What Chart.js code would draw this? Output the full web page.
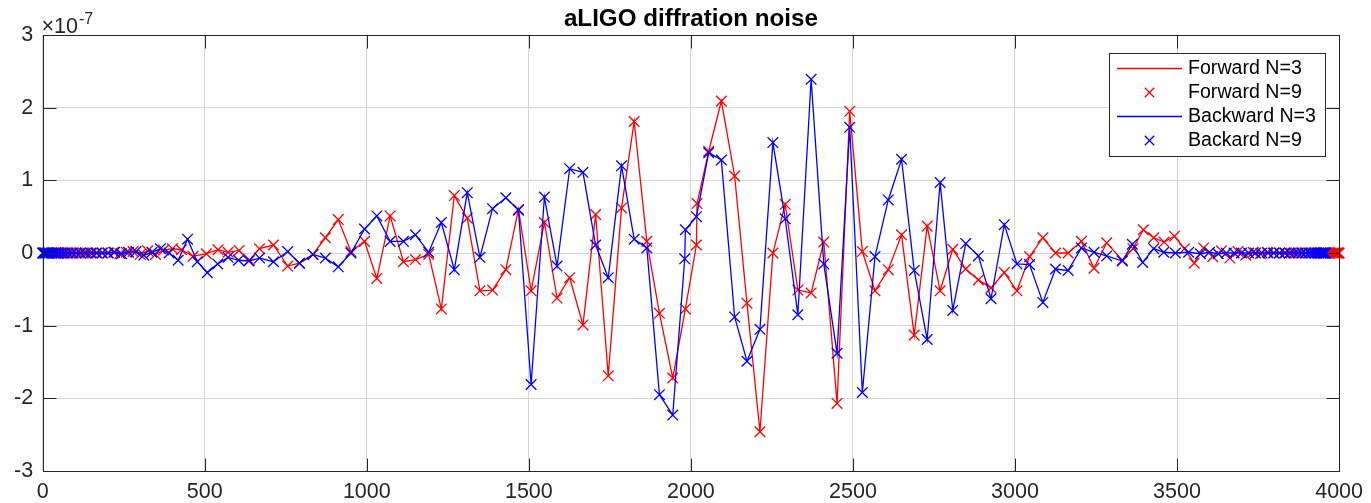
<!DOCTYPE html>
<html><head><meta charset="utf-8">
<script src="https://cdn.jsdelivr.net/npm/chart.js@4.4.0/dist/chart.umd.min.js"></script>
<style>html,body{margin:0;padding:0;background:#fff;}</style>
</head><body>
<canvas id="c" width="1371" height="503"></canvas>
<script>
// ---- data (y values in units of 1e-7) ----
const chartTitle = 'aLIGO diffration noise';
const seriesLabels = ['Forward N=3', 'Forward N=9', 'Backward N=3', 'Backard N=9'];
const xTicks = [0, 500, 1000, 1500, 2000, 2500, 3000, 3500, 4000];
const yTicks = [-3, -2, -1, 0, 1, 2, 3];
const yExponent = '-7';

const fwdX = [
  42, 43, 45, 47, 50, 54, 58, 63, 69, 76, 84, 93, 103, 114, 126, 139, 153, 168, 184, 201,
  219, 238, 258, 279, 301, 324, 348, 373, 400, 428, 464, 505, 541, 572, 606, 638, 669,
  712, 756, 792, 834, 872, 912, 951, 993, 1031, 1072, 1113, 1150, 1191, 1230, 1270, 1310,
  1349, 1388, 1429, 1468, 1507, 1548, 1587, 1626, 1667, 1706, 1745, 1786, 1825, 1864, 1903, 1944,
  1983, 2017, 2019,
  2055, 2094, 2135, 2173, 2213, 2253, 2291, 2330, 2371, 2410, 2451, 2490, 2529, 2568, 2609, 2650,
  2689, 2729, 2769, 2808, 2848, 2887, 2926, 2967, 3006, 3045, 3086, 3125, 3164, 3205, 3244, 3283,
  3331, 3364, 3396, 3428, 3460, 3492, 3523, 3553, 3582, 3610, 3637, 3663, 3688, 3712, 3735, 3757,
  3778, 3798, 3817, 3835, 3852, 3868, 3883, 3897, 3910, 3922, 3933, 3943, 3952, 3960, 3967, 3973,
  3979, 3984, 3988, 3992, 3995, 3997, 3999, 4000
];
const fwdY = [
  0, 0, 0, 0, 0, 0, 0, 0, 0, 0, 0, 0, 0, 0, 0, 0, 0, 0, 0, 0,
  0.01, -0.01, 0.01, 0.02, -0.02, 0.03, -0.02, 0.04, 0.06, 0.045, -0.045, -0.01, 0.045, 0.01, 0.035, -0.10, 0.06,
  0.11, -0.18, -0.14, -0.02, 0.21, 0.46, 0.02, 0.16, -0.35, 0.51, -0.12, -0.09, -0.02, -0.77, 0.79, 0.48,
  -0.52, -0.51, -0.23, 0.60, -0.52, 0.42, -0.62, -0.34, -0.99, 0.53, -1.69, 0.62, 1.81, 0.16, -0.83, -1.72,
  -0.77, 0.11, 0.68,
  1.40, 2.09, 1.06, -0.69, -2.46, 0.00, 0.67, -0.51, -0.55, 0.15, -2.07, 1.95, 0.02, -0.52, -0.23, 0.25,
  -1.13, 0.37, -0.52, 0.05, -0.22, -0.37, -0.48, -0.27, -0.52, -0.05, 0.21, 0.00, 0.00, 0.16, -0.21, 0.14,
  -0.10, 0.06, 0.32, 0.21, 0.15, 0.23, 0.06, -0.14, 0.07, -0.05, 0.03, -0.07, 0.02, -0.03, 0.01, -0.01,
  0.01, 0, 0, 0, 0, 0, 0, 0, 0, 0, 0, 0, 0, 0, 0, 0,
  0, 0, 0, 0, 0, 0, 0, 0
];

const bwdX = [
  0, 1, 3, 5, 8, 12, 16, 21, 27, 33, 40, 48, 57, 67, 78, 90, 103, 117, 132, 148,
  165, 183, 202, 222, 243, 265, 288, 312, 337, 363, 390, 418, 447, 477, 508, 540, 572, 604, 636, 669,
  712, 756, 792, 834, 872, 912, 951, 993, 1031, 1072, 1113, 1150, 1191, 1230, 1270, 1310,
  1349, 1388, 1429, 1468, 1507, 1548, 1587, 1626, 1667, 1706, 1745, 1786, 1825, 1864, 1903, 1944,
  1981, 1983, 2017,
  2055, 2094, 2135, 2173, 2213, 2253, 2291, 2330, 2371, 2410, 2451, 2490, 2529, 2568, 2609, 2650,
  2689, 2729, 2769, 2808, 2848, 2887, 2926, 2967, 3006, 3045, 3086, 3125, 3164, 3205, 3244, 3283,
  3331, 3362, 3394, 3428, 3459, 3495, 3536, 3572, 3600, 3627, 3652, 3676, 3699, 3721, 3742, 3762,
  3781, 3799, 3816, 3832, 3847, 3861, 3874, 3886, 3897, 3907, 3916, 3924, 3931, 3937, 3942, 3946,
  3950, 3953, 3955, 3957, 3958
];
const bwdY = [
  0, 0, 0, 0, 0, 0, 0, 0, 0, 0, 0, 0, 0, 0, 0, 0, 0, 0, 0, 0,
  0, 0, 0, 0.01, -0.01, 0.01, 0.02, -0.03, 0.01, 0.06, 0.00, -0.10, 0.19, -0.12, -0.27, -0.15, -0.06, -0.10, -0.11, -0.07,
  -0.12, 0.02, -0.14, -0.02, -0.07, -0.19, 0.00, 0.33, 0.51, 0.16, 0.16, 0.25, 0.01, 0.42, -0.23, 0.83,
  -0.06, 0.61, 0.76, 0.59, -1.81, 0.77, -0.18, 1.16, 1.11, 0.11, -0.34, 1.20, 0.19, 0.07, -1.95, -2.23,
  -0.08, 0.32, 0.50,
  1.38, 1.28, -0.88, -1.49, -1.05, 1.52, 0.47, -0.85, 2.39, -0.15, -1.38, 1.73, -1.92, -0.05, 0.73, 1.29,
  -0.24, -1.19, 0.97, -0.79, 0.13, -0.04, -0.63, 0.39, -0.15, -0.16, -0.68, -0.22, -0.24, 0.07, 0.01, -0.04,
  -0.11, 0.12, -0.13, 0.06, 0.01, 0.00, 0.01, -0.01, 0.01, -0.01, 0, 0, 0, 0, 0, 0,
  0, 0, 0, 0, 0, 0, 0, 0, 0, 0, 0, 0, 0, 0, 0, 0,
  0, 0, 0, 0, 0
];

// ---- styling ----
const RED = '#ff0000', BLUE = '#0000ff', AXIS = '#262626', GRID = '#d6d6d6';
const FONT = "'Liberation Sans', Arial, Helvetica, sans-serif";
Chart.defaults.font.family = FONT;

const toPts = (xs, ys) => xs.map((x, i) => ({x: x, y: ys[i]}));

const lineDs = (label, xs, ys, color, order) => ({
  label, data: toPts(xs, ys), showLine: true, borderColor: color, borderWidth: 1.3,
  pointRadius: 0, pointHoverRadius: 0, fill: false, tension: 0, order
});
const markDs = (label, xs, ys, color, order) => ({
  label, data: toPts(xs, ys), showLine: false, pointStyle: 'crossRot', pointRadius: 7.5,
  pointBorderWidth: 1.3, pointBorderColor: color, pointBackgroundColor: color,
  borderColor: color, backgroundColor: color, clip: false, order
});

function drawCross(ctx, cx, cy, h, color) {
  ctx.save();
  ctx.strokeStyle = color;
  ctx.lineWidth = 1.3;
  ctx.beginPath();
  ctx.moveTo(cx - h, cy - h); ctx.lineTo(cx + h, cy + h);
  ctx.moveTo(cx - h, cy + h); ctx.lineTo(cx + h, cy - h);
  ctx.stroke();
  ctx.restore();
}

const matlabPlugin = {
  id: 'matlabDecor',
  afterDraw(chart) {
    const {ctx, chartArea: a, scales: {x, y}} = chart;
    ctx.save();
    const L = Math.round(a.left) + 0.5, R = Math.round(a.right) + 0.5;
    const T = Math.round(a.top) + 0.5, B = Math.round(a.bottom) + 0.5;
    // inward tick marks
    ctx.strokeStyle = AXIS; ctx.lineWidth = 1;
    ctx.beginPath();
    xTicks.forEach(v => {
      const px = Math.round(x.getPixelForValue(v)) + 0.5;
      ctx.moveTo(px, B); ctx.lineTo(px, B - 13);
      ctx.moveTo(px, T); ctx.lineTo(px, T + 13);
    });
    yTicks.forEach(v => {
      const py = Math.round(y.getPixelForValue(v)) + 0.5;
      ctx.moveTo(L, py); ctx.lineTo(L + 13, py);
      ctx.moveTo(R, py); ctx.lineTo(R - 13, py);
    });
    ctx.stroke();
    // box
    ctx.strokeRect(L, T, R - L, B - T);

    // title centered over axes
    ctx.fillStyle = '#000';
    ctx.font = 'bold 24.2px ' + FONT;
    ctx.textAlign = 'center'; ctx.textBaseline = 'alphabetic';
    ctx.fillText(chartTitle, (a.left + a.right) / 2, 26);

    // exponent label
    ctx.fillStyle = AXIS;
    ctx.textAlign = 'left';
    ctx.font = '21.5px ' + FONT;
    ctx.fillText('\u00d710', L - 2, 33);
    const w = ctx.measureText('\u00d710').width;
    ctx.font = '16px ' + FONT;
    ctx.fillText(yExponent, L - 2 + w + 1, 24);

    // legend
    const lx = 1109.5, ly = 53.5, lw = 216, lh = 103;
    ctx.fillStyle = '#fff';
    ctx.fillRect(lx, ly, lw, lh);
    ctx.strokeStyle = AXIS; ctx.lineWidth = 1;
    ctx.strokeRect(lx, ly, lw, lh);
    const rows = [67.7, 91.6, 115.6, 139.5];
    const colors = [RED, RED, BLUE, BLUE];
    rows.forEach((ry, i) => {
      if (i % 2 === 0) {
        ctx.save();
        ctx.strokeStyle = colors[i]; ctx.lineWidth = 1.3;
        ctx.beginPath(); ctx.moveTo(1117, Math.round(ry) + 0.5); ctx.lineTo(1182, Math.round(ry) + 0.5); ctx.stroke();
        ctx.restore();
      } else {
        drawCross(ctx, 1149.5, Math.round(ry) + 0.5, 4.7, colors[i]);
      }
      ctx.fillStyle = '#000';
      ctx.font = '19.6px ' + FONT;
      ctx.textBaseline = 'middle';
      ctx.textAlign = 'left';
      ctx.fillText(seriesLabels[i], 1188, ry + 1);
    });
    ctx.restore();
  }
};

new Chart(document.getElementById('c'), {
  type: 'scatter',
  data: {
    datasets: [
      markDs(seriesLabels[3], bwdX, bwdY, BLUE, 0),
      lineDs(seriesLabels[2], bwdX, bwdY, BLUE, 1),
      markDs(seriesLabels[1], fwdX, fwdY, RED, 2),
      lineDs(seriesLabels[0], fwdX, fwdY, RED, 3)
    ]
  },
  options: {
    responsive: false,
    devicePixelRatio: 1,
    animation: false,
    layout: {padding: {left: 0, right: 30, top: 35, bottom: 0}},
    plugins: {legend: {display: false}, title: {display: false}, tooltip: {enabled: false}},
    scales: {
      x: {
        type: 'linear', min: 0, max: 4000,
        afterBuildTicks: s => { s.ticks = xTicks.map(v => ({value: v})); },
        ticks: {color: AXIS, font: {size: 21.5}, padding: 8, maxRotation: 0, autoSkip: false,
                callback: v => String(v)},
        grid: {color: GRID, drawTicks: false, lineWidth: 1},
        border: {display: false},
        afterFit: s => { s.height = 32; }
      },
      y: {
        type: 'linear', min: -3, max: 3,
        afterBuildTicks: s => { s.ticks = yTicks.map(v => ({value: v})); },
        ticks: {color: AXIS, font: {size: 21.5}, padding: 9.5, autoSkip: false,
                callback: v => String(v)},
        grid: {color: GRID, drawTicks: false, lineWidth: 1},
        border: {display: false},
        afterFit: s => { s.width = 42.7; }
      }
    }
  },
  plugins: [matlabPlugin]
});
</script>
</body></html>
